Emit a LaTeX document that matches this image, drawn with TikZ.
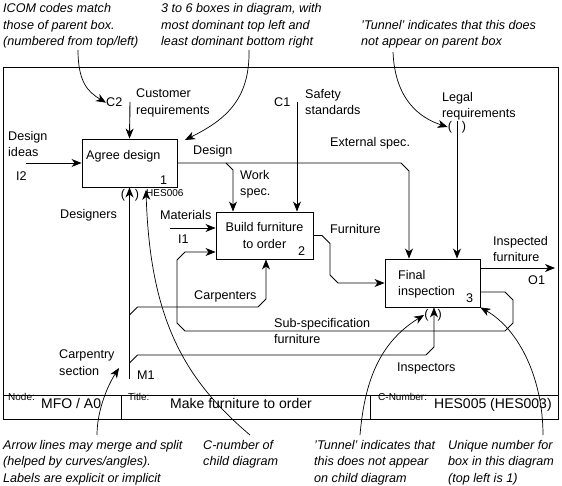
\documentclass[tikz,border=0pt]{standalone}
\usepackage{fontspec}
\setmainfont{Liberation Sans}
\usepackage{xcolor}
\usepackage{tikz}
\usetikzlibrary{
    arrows.meta,
    positioning,
    calc
}
\definecolor{idefink}{HTML}{000000}
\newcommand{\lblsize}{\fontsize{12.6}{16.5}\selectfont}
\newcommand{\smlsize}{\fontsize{10}{12}\selectfont}
\newcommand{\barsize}{\fontsize{14}{16}\selectfont}
\tikzset{
    % Activity box
    idefbox/.style={
        rectangle,
        draw=idefink,
        line width=0.9pt,
        minimum width=95pt,
        minimum height=48pt,
        inner sep=0pt
    },
    % Text inside a box
    boxtext/.style={
        font=\lblsize,
        inner sep=0pt
    },
    % Box number
    boxnum/.style={
        font=\lblsize,
        inner sep=0pt
    },
    % Arrow label, one line
    arrlabel/.style={
        font=\lblsize,
        inner sep=0pt,
        anchor=base west
    },
    % Arrow label, two lines
    arrlabeltwo/.style={
        font=\lblsize,
        inner sep=0pt,
        anchor=north west,
        align=left
    },
    % Small text
    smalllabel/.style={
        font=\smlsize,
        inner sep=0pt,
        anchor=base west
    },
    % Title bar text
    barlabel/.style={
        font=\barsize,
        inner sep=0pt,
        anchor=base west
    },
    % Note text
    notetext/.style={
        font=\lblsize\itshape,
        inner sep=0pt,
        anchor=north west,
        align=left
    },
    % Tunnel brackets
    tunnel/.style={
        font=\lblsize,
        inner sep=0pt
    },
    % Flow arrow
    idefarrow/.style={
        line width=0.9pt,
        color=idefink,
        -{Stealth[length=10pt,width=8pt,inset=3pt]}
    },
    % Note arrow
    notearrow/.style={
        line width=0.7pt,
        color=idefink,
        -{Stealth[length=10pt,width=8pt,inset=3pt]}
    },
    % Frame line
    framebar/.style={
        line width=0.9pt,
        color=idefink
    }
}

\begin{document}
\begin{tikzpicture}[x=1pt, y=-1pt]
    \useasboundingbox (0,0) rectangle (562,486);

    % frame and title bar
    \draw[framebar] (3,67) rectangle (558,419);
    \draw[framebar] (3,395) -- (558,395);
    \draw[framebar] (121,395) -- (121,419);
    \draw[framebar] (370,395) -- (370,419);
    \node[smalllabel] (bar-node) at (8,400) {Node:};
    \node[barlabel] (bar-nodeval) at (41,408) {MFO / A0};
    \node[smalllabel] (bar-title) at (128,400) {Title:};
    \node[barlabel] (bar-titleval) at (170,408) {Make furniture to order};
    \node[smalllabel] (bar-cnum) at (378,400) {C-Number:};
    \node[barlabel] (bar-cnumval) at (434,408) {HES005 (HES003)};

    % boxes
    \node[idefbox] (a1-box) at (129.5,163) {};
    \node[idefbox, minimum width=97pt, minimum height=47pt] (a2-box) at (264.5,235.5) {};
    \node[idefbox] (a3-box) at (432.5,283) {};

    \node[boxtext, anchor=base west] (a1-name) at (86,160) {Agree design};
    \node[boxnum, above left=3pt and 10pt of a1-box.south east] (a1-num) {1};
    \node[boxtext, align=center] (a2-name) at (a2-box.center) {Build furniture\\to order};
    \node[boxnum, above left=4pt and 8pt of a2-box.south east] (a2-num) {2};
    \node[boxtext, anchor=north west, align=left] (a3-name) at (398,270) {Final\\inspection};
    \node[boxnum, above left=5pt and 7pt of a3-box.south east] (a3-num) {3};

    % ICOM ends
    \coordinate (i2) at (26,163);
    \coordinate (i1) at (170,228);
    \coordinate (c2) at (130,102);
    \coordinate (c1) at (297,102);
    \coordinate (legal) at (457,121);
    \coordinate (m1) at (129.5,379);
    \coordinate (o1) at (555,268);

    % arrow labels
    \node[arrlabeltwo] (l-ideas) at (8,131) {Design\\ideas};
    \node[arrlabel] (l-i2) at (16,181) {I2};
    \node[arrlabel] (l-c2) at (106,107) {C2};
    \node[arrlabeltwo] (l-cust) at (136,89) {Customer\\requirements};
    \node[arrlabel] (l-c1) at (274,107) {C1};
    \node[arrlabeltwo] (l-safety) at (305,89) {Safety\\standards};
    \node[arrlabeltwo] (l-legal) at (442,92) {Legal\\requirements};
    \node[arrlabel] (l-design) at (193,155) {Design};
    \node[arrlabel] (l-ext) at (330,147) {External spec.};
    \node[arrlabeltwo] (l-work) at (240,170) {Work\\spec.};
    \node[arrlabel] (l-designers) at (60,219) {Designers};
    \node[smalllabel] (l-hes006) at (146,197) {HES006};
    \node[arrlabel] (l-mat) at (160,220) {Materials};
    \node[arrlabel] (l-i1) at (178,244) {I1};
    \node[arrlabel] (l-furn) at (330,234) {Furniture};
    \node[arrlabel] (l-carp) at (194,299) {Carpenters};
    \node[arrlabeltwo] (l-insp) at (493,236) {Inspected\\furniture};
    \node[arrlabel] (l-o1) at (528,284) {O1};
    \node[arrlabeltwo] (l-sub) at (274,318) {Sub-specification\\furniture};
    \node[arrlabel] (l-inspectors) at (397,371) {Inspectors};
    \node[arrlabeltwo] (l-section) at (59,350) {Carpentry\\section};
    \node[arrlabel] (l-m1) at (137,379) {M1};

    % tunnels
    \node[tunnel] (t-legal) at (457,127) {(\hspace{10pt})};
    \node[tunnel] (t-designers) at (130,195) {(\hspace{10pt})};
    \node[tunnel] (t-inspectors) at (433,315) {(\hspace{9pt})};

    % inputs and controls
    \draw[idefarrow] (i2) -- (a1-box.west);
    \draw[idefarrow] (c2) -- (a1-box.north);
    \draw[idefarrow] (c1) -- (297,0 |- a2-box.north);
    \draw[idefarrow] (legal) -- (457,0 |- a3-box.north);
    \draw[idefarrow] (i1) -- (a2-box.west |- i1);

    % design and work spec
    \draw[idefarrow] (a1-box.east) -- (401,163) -- ++(8,8) -- (409,0 |- a3-box.north);
    \draw[idefarrow] (226,163) -- ++(7,7) -- (233,0 |- a2-box.north);

    % furniture
    \draw[idefarrow] (a2-box.east) -- (322,235.5) -- ++(8,8) -- (330,275) -- ++(8,8) -- (a3-box.west);

    % sub-specification furniture
    \draw[idefarrow] (a3-box.east |- 0,292) -- (505,292) -- ++(8,8) -- (513,323) -- ++(-8,8)
        -- (185,331) -- ++(-8,-8) -- (177,260) -- ++(8,-8) -- (a2-box.west |- 0,252);

    % inspected furniture
    \draw[idefarrow] (a3-box.east |- o1) -- (o1);

    % mechanisms
    \draw[idefarrow] (m1) -- (a1-box.south);
    \draw[idefarrow] (129.5,315) -- ++(8,-8) -- (258,307) -- ++(8,-8) -- (266,0 |- a2-box.south);
    \draw[idefarrow] (129.5,363) -- ++(8,-8) -- (426,355) -- ++(8,-8) -- (434,0 |- a3-box.south);

    % notes
    \node[notetext] (n-icom) at (3,3.5) {ICOM codes match\\those of parent box.\\(numbered from top/left)};
    \node[notetext] (n-boxes) at (161,3.5) {3 to 6 boxes in diagram, with\\most dominant top left and\\least dominant bottom right};
    \node[notetext] (n-tunnel1) at (361,20) {'Tunnel' indicates that this does\\not appear on parent box};
    \node[notetext] (n-merge) at (3,440) {Arrow lines may merge and split\\(helped by curves/angles).\\Labels are explicit or implicit};
    \node[notetext] (n-cnum) at (203,440) {C-number of\\child diagram};
    \node[notetext] (n-tunnel2) at (314,440) {'Tunnel' indicates that\\this does not appear\\on child diagram};
    \node[notetext] (n-unique) at (448,440) {Unique number for\\box in this diagram\\(top left is 1)};

    \draw[notearrow] (78,50) .. controls (78,82) and (88,92) .. (l-c2.west);
    \draw[notearrow] (249,50) .. controls (250,100) and (225,120) .. (185,140);
    \draw[notearrow] (393,52) .. controls (395,100) and (420,118) .. (t-legal.west);
    \draw[notearrow] (97,435) .. controls (97,410) and (108,385) .. (119,368);
    \draw[notearrow] (250,435) .. controls (185,380) and (150,320) .. (l-hes006.north west);
    \draw[notearrow] (360,435) .. controls (364,390) and (375,345) .. (t-inspectors.west);
    \draw[notearrow] (543,435) .. controls (543,380) and (520,330) .. (a3-box.south east);
\end{tikzpicture}
\end{document}
